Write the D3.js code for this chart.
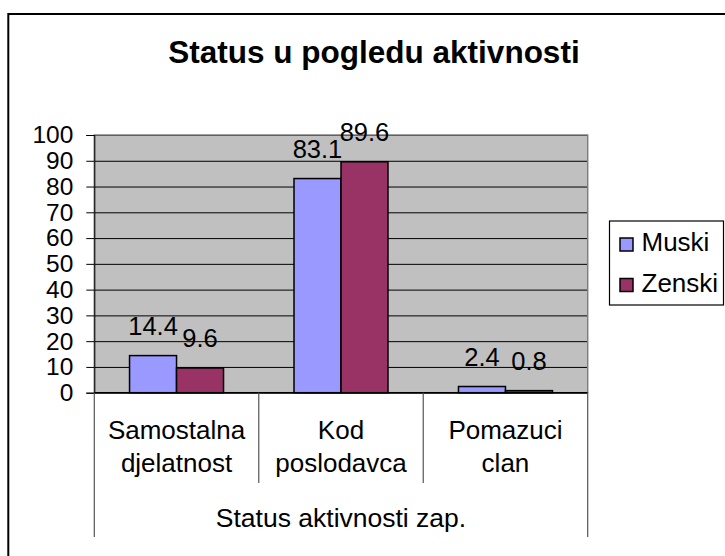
<!DOCTYPE html>
<html>
<head>
<meta charset="utf-8">
<script src="https://cdn.jsdelivr.net/npm/d3@7"></script>
<style>
  html, body { margin: 0; padding: 0; background: #fff; }
  svg { display: block; font-family: "Liberation Sans", Arial, sans-serif; }
</style>
</head>
<body>
<svg id="grafik" width="725" height="556"></svg>
<script>
const kategorije = [["Samostalna", "djelatnost"], ["Kod", "poslodavca"], ["Pomazuci", "clan"]];
const serije = ["Muski", "Zenski"];
const muski = [14.4, 83.1, 2.4];
const zenski = [9.6, 89.6, 0.8];
const tickovi = [0, 10, 20, 30, 40, 50, 60, 70, 80, 90, 100];
const naslov = "Status u pogledu aktivnosti";
const nazivOsi = "Status aktivnosti zap.";

const boje = { Muski: "#9999ff", Zenski: "#993366" };
const vrijednosti = { Muski: muski, Zenski: zenski };

const svg = d3.select("#grafik");

// okvir (desna i donja strana su izvan slike)
svg.append("rect")
  .attr("x", 8.3).attr("y", 14)
  .attr("width", 740).attr("height", 560)
  .attr("fill", "#fff").attr("stroke", "#000").attr("stroke-width", 2);

svg.append("text")
  .attr("x", 374).attr("y", 63)
  .attr("text-anchor", "middle")
  .attr("font-size", "31.5px").attr("font-weight", "bold")
  .text(naslov);

const plot = { left: 94.3, right: 587.7, top: 135, bottom: 392.7 };

const x0 = d3.scaleBand()
  .domain(d3.range(kategorije.length))
  .range([plot.left, plot.right])
  .padding(0);

const x1 = d3.scaleBand()
  .domain(serije)
  .range([0, x0.bandwidth()])
  .paddingInner(0)
  .paddingOuter(0.75);

const y = d3.scaleLinear().domain([0, 100]).range([plot.bottom, plot.top]);

// pozadina
svg.append("rect")
  .attr("x", plot.left).attr("y", plot.top)
  .attr("width", plot.right - plot.left).attr("height", plot.bottom - plot.top)
  .attr("fill", "#c0c0c0");

// mreza
svg.append("g")
  .attr("transform", `translate(${plot.left},0)`)
  .call(d3.axisLeft(y).tickValues(tickovi).tickSize(-(plot.right - plot.left)).tickFormat(""))
  .call((sel) => sel.select(".domain").remove())
  .call((sel) => sel.selectAll("line").attr("stroke", "#000").attr("stroke-width", 1));

// rub podrucja
svg.append("rect")
  .attr("x", plot.left).attr("y", plot.top)
  .attr("width", plot.right - plot.left).attr("height", plot.bottom - plot.top)
  .attr("fill", "none").attr("stroke", "#808080").attr("stroke-width", 1.5);

// y os
svg.append("g")
  .attr("transform", `translate(${plot.left},0)`)
  .call(d3.axisLeft(y).tickValues(tickovi).tickSize(8).tickPadding(13))
  .call((sel) => sel.select(".domain").attr("stroke", "#000"))
  .call((sel) => sel.selectAll("line").attr("stroke", "#000"))
  .call((sel) => sel.selectAll("text").attr("fill", "#000").attr("font-size", "24.5px")
    .attr("font-family", "'Liberation Sans', Arial, sans-serif"));

// stupci
const grupe = svg.append("g").selectAll("g")
  .data(kategorije.map((k, i) => i))
  .join("g")
  .attr("transform", (i) => `translate(${x0(i)},0)`);

grupe.selectAll("rect")
  .data((i) => serije.map((s) => ({ s, v: vrijednosti[s][i] })))
  .join("rect")
  .attr("x", (d) => x1(d.s))
  .attr("width", x1.bandwidth())
  .attr("y", (d) => y(d.v))
  .attr("height", (d) => y(0) - y(d.v))
  .attr("fill", (d) => boje[d.s])
  .attr("stroke", "#000").attr("stroke-width", 1.5);

grupe.selectAll("text")
  .data((i) => serije.map((s) => ({ s, v: vrijednosti[s][i] })))
  .join("text")
  .attr("x", (d) => x1(d.s) + x1.bandwidth() / 2)
  .attr("y", (d) => y(d.v) - 21)
  .attr("text-anchor", "middle")
  .attr("font-size", "25.5px")
  .text((d) => d.v);

// x os
svg.append("line")
  .attr("x1", plot.left).attr("x2", plot.right)
  .attr("y1", plot.bottom).attr("y2", plot.bottom)
  .attr("stroke", "#000").attr("stroke-width", 1.5);

const granice = d3.range(kategorije.length + 1).map((i) =>
  i < kategorije.length ? x0(i) : x0(i - 1) + x0.bandwidth());

svg.append("g").selectAll("line")
  .data(granice)
  .join("line")
  .attr("x1", (d) => d).attr("x2", (d) => d)
  .attr("y1", plot.bottom)
  .attr("y2", (d, i) => (i === 0 || i === granice.length - 1) ? 537 : 483)
  .attr("stroke", "#555").attr("stroke-width", 1.2);

svg.append("g").selectAll("text")
  .data(kategorije)
  .join("text")
  .attr("x", (d, i) => x0(i) + x0.bandwidth() / 2)
  .attr("y", 438.5)
  .attr("text-anchor", "middle")
  .attr("font-size", "26px")
  .selectAll("tspan")
  .data((d) => d)
  .join("tspan")
  .attr("x", function () { return d3.select(this.parentNode).attr("x"); })
  .attr("dy", (d, j) => j === 0 ? 0 : 33)
  .text((d) => d);

svg.append("text")
  .attr("x", (plot.left + plot.right) / 2)
  .attr("y", 526.5)
  .attr("text-anchor", "middle")
  .attr("font-size", "26.5px")
  .text(nazivOsi);

// legenda
const leg = svg.append("g");
leg.append("rect")
  .attr("x", 609.5).attr("y", 221)
  .attr("width", 114).attr("height", 84)
  .attr("fill", "#fff").attr("stroke", "#000").attr("stroke-width", 1.2);

const stavke = leg.selectAll("g")
  .data(serije)
  .join("g")
  .attr("transform", (d, i) => `translate(0,${i * 40.5})`);

stavke.append("rect")
  .attr("x", 620).attr("y", 238)
  .attr("width", 13).attr("height", 13)
  .attr("fill", (d) => boje[d])
  .attr("stroke", "#000").attr("stroke-width", 1.5);

stavke.append("text")
  .attr("x", 641.5).attr("y", 251)
  .attr("font-size", "26px")
  .text((d) => d);
</script>
</body>
</html>
